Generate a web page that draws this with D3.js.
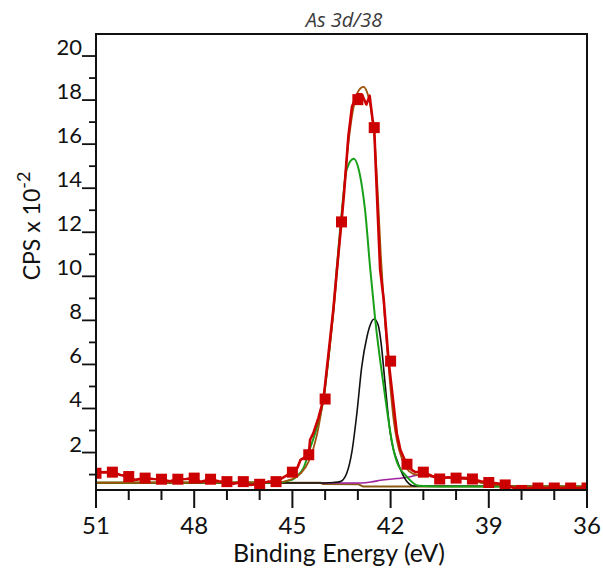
<!DOCTYPE html>
<html>
<head>
<meta charset="utf-8">
<script src="https://cdn.jsdelivr.net/npm/d3@7"></script>
<style>
  body { margin: 0; background: #fff; }
  svg { display: block; font-family: Lato, "Liberation Sans", sans-serif; }
</style>
</head>
<body>
<div class="graph"></div>
<script>
// Data read from the As 3d/38 spectrum
var energy = [51, 50.5, 50, 49.5, 49, 48.5, 48, 47.5, 47, 46.5, 46, 45.5, 45, 44.5, 44,
    43.5, 43, 42.5, 42, 41.5, 41, 40.5, 40, 39.5, 39, 38.5, 38, 37.5, 37, 36.5, 36];
var counts = [1.06, 1.11, 0.91, 0.84, 0.79, 0.79, 0.84, 0.79, 0.68, 0.68, 0.56, 0.68, 1.11, 1.90, 4.43,
    12.47, 18.02, 16.75, 6.15, 1.47, 1.11, 0.80, 0.84, 0.80, 0.64, 0.53, 0.28, 0.39, 0.39, 0.39, 0.39];

// raw spectrum line (finer sampling)
var rawE = [51, 50.9, 50.5, 50.25, 50, 49.8, 49.5, 49.25, 49, 48.75, 48.5, 48.25, 48, 47.8, 47.5, 47.25,
    47, 46.8, 46.5, 46.3, 46, 45.75, 45.5, 45.3, 45, 44.85, 44.75, 44.5, 44.46, 44.36, 44.2, 44.05,
    43.75, 43.64, 43.5, 43.42, 43.29, 43.18, 43.03, 42.88, 42.74, 42.64, 42.55, 42.5, 42.45, 42.32,
    42.21, 42.06, 41.81, 41.7, 41.55, 41.5, 41.35, 41.25, 41, 40.75, 40.5, 40.25, 40, 39.75, 39.5,
    39.25, 39, 38.75, 38.5, 38.25, 38, 37.75, 37.5, 37, 36.5, 36];
var rawV = [1.06, 1.1, 1.11, 0.98, 0.91, 0.76, 0.84, 0.8, 0.79, 0.7, 0.79, 0.8, 0.84, 0.67, 0.79, 0.7,
    0.68, 0.58, 0.68, 0.53, 0.56, 0.68, 0.68, 0.85, 1.11, 1.3, 1.67, 1.9, 2.58, 2.88, 3.6, 4.43,
    8.49, 10.3, 12.47, 13.8, 16.36, 17.7, 18.26, 18.26, 17.8, 18.2, 17.1, 16.75, 14.85, 10.3,
    8.94, 6.15, 2.88, 2.12, 1.6, 1.47, 1.2, 1.12, 1.11, 0.95, 0.8, 0.88, 0.84, 0.85, 0.8,
    0.7, 0.64, 0.6, 0.53, 0.4, 0.3, 0.38, 0.39, 0.39, 0.39, 0.39];

// fit envelope
var envE = [51, 45.5, 45, 44.75, 44.5, 44.25, 44.05, 43.75, 43.5, 43.3, 43.1, 42.97, 42.83, 42.72, 42.6,
    42.5, 42.4, 42.3, 42.2, 42.06, 41.9, 41.8, 41.65, 41.5, 41.3, 41.1, 40.8, 40.5, 40, 39.5, 39.26,
    38.74, 38, 36];
var envV = [0.63, 0.65, 0.8, 1.05, 1.6, 2.8, 4.5, 8.3, 12.6, 15.9, 17.9, 18.45, 18.6, 18.36, 17.6,
    16.4, 14.0, 11.0, 8.6, 5.9, 3.4, 2.5, 1.7, 1.25, 1.03, 0.97, 0.93, 0.88, 0.84, 0.75, 0.64,
    0.53, 0.46, 0.45];

// components
var greenE = [51, 45.5, 45.02, 44.87, 44.66, 44.46, 44.3, 44.05, 43.75, 43.52, 43.34, 43.13, 42.93,
    42.78, 42.62, 42.47, 42.21, 41.91, 41.81, 41.5, 41.14, 40.5, 36];
var greenV = [0.63, 0.64, 0.76, 0.91, 1.3, 2.2, 2.9, 4.43, 8.49, 12.47, 14.85, 15.34, 14.55,
    13.0, 10.3, 8.03, 5.0, 2.12, 1.58, 0.9, 0.49, 0.46, 0.46];

var blackE = [51, 44, 43.75, 43.54, 43.34, 43.18, 43.03, 42.88, 42.72, 42.62, 42.5, 42.37, 42.29,
    42.16, 42.01, 41.91, 41.81, 41.6, 41.45, 41.3, 36];
var blackV = [0.62, 0.62, 0.64, 0.68, 1.06, 2.05, 3.79, 5.91, 7.27, 7.8, 8.06, 7.73, 6.97,
    5.0, 2.88, 2.12, 1.67, 0.91, 0.6, 0.48, 0.46];

var purpleE = [44.1, 42.9, 42.6, 42.31, 41.8, 41.4, 41.19, 41, 40.79, 40.5, 40, 39.5, 39.26, 38.74, 38.03, 37.5];
var purpleV = [0.62, 0.62, 0.66, 0.74, 0.82, 0.9, 0.97, 0.97, 0.92, 0.88, 0.84, 0.75, 0.64, 0.53, 0.46, 0.46];

var bgE = [51, 44.15, 44.05, 42.98, 42.85, 36];
var bgV = [0.63, 0.63, 0.57, 0.56, 0.46, 0.45];

var xTicks = [51, 48, 45, 42, 39, 36];
var yTicks = [2, 4, 6, 8, 10, 12, 14, 16, 18, 20];

var width = 603;
var height = 571;
var plot = {left: 96, right: 587, top: 34, bottom: 490};

var svg = d3.select(".graph").append("svg")
    .attr("width", width)
    .attr("height", height);

var x = d3.scaleLinear().domain([51, 36]).range([plot.left, plot.right]);
var y = d3.scaleLinear().domain([0.3, 21]).range([plot.bottom, plot.top]);

svg.append("clipPath").attr("id", "clip")
    .append("rect")
    .attr("x", plot.left).attr("y", plot.top)
    .attr("width", plot.right - plot.left).attr("height", plot.bottom - plot.top);

var area = svg.append("g").attr("clip-path", "url(#clip)");

function pairs(es, vs) { return es.map(function (e, i) { return [e, vs[i]]; }); }

var smooth = d3.line()
    .x(function (d) { return x(d[0]); })
    .y(function (d) { return y(d[1]); })
    .curve(d3.curveMonotoneX);
var straight = d3.line()
    .x(function (d) { return x(d[0]); })
    .y(function (d) { return y(d[1]); });

function drawLine(es, vs, color, w, gen) {
    area.append("path")
        .datum(pairs(es, vs).sort(function (a, b) { return b[0] - a[0]; }))
        .attr("fill", "none")
        .attr("stroke", color)
        .attr("stroke-width", w)
        .attr("stroke-linejoin", "round")
        .attr("d", gen);
}

drawLine(bgE, bgV, "#8a5a16", 2, straight);
drawLine(purpleE, purpleV, "#a020a0", 1.6, smooth);
drawLine(blackE, blackV, "#111111", 1.6, smooth);
drawLine(greenE, greenV, "#18a018", 2, smooth);
drawLine(envE, envV, "#a0520c", 1.8, smooth);
drawLine(rawE, rawV, "#cc0000", 2.6, straight);

var sq = 11;
area.selectAll("rect.pt")
    .data(pairs(energy, counts))
    .enter().append("rect")
    .attr("class", "pt")
    .attr("x", function (d) { return x(d[0]) - sq / 2; })
    .attr("y", function (d) { return y(d[1]) - sq / 2; })
    .attr("width", sq)
    .attr("height", sq)
    .attr("fill", "#cc0000");

// frame
svg.append("rect")
    .attr("x", plot.left).attr("y", plot.top)
    .attr("width", plot.right - plot.left).attr("height", plot.bottom - plot.top)
    .attr("fill", "none").attr("stroke", "#111").attr("stroke-width", 2);

// x axis ticks
var xg = svg.append("g");
xg.selectAll("line.minor")
    .data(d3.range(36, 52, 1))
    .enter().append("line")
    .attr("x1", function (d) { return x(d); }).attr("x2", function (d) { return x(d); })
    .attr("y1", plot.bottom).attr("y2", function (d) { return xTicks.indexOf(d) >= 0 ? plot.bottom + 18 : plot.bottom + 10; })
    .attr("stroke", "#111").attr("stroke-width", 2);
xg.selectAll("text")
    .data(xTicks)
    .enter().append("text")
    .attr("x", function (d) { return x(d); })
    .attr("y", 534)
    .attr("text-anchor", "middle")
    .attr("font-size", 24)
    .attr("fill", "#111")
    .text(function (d) { return d; });

// y axis ticks
var yg = svg.append("g");
yg.selectAll("line")
    .data(d3.range(1, 21, 1))
    .enter().append("line")
    .attr("y1", function (d) { return y(d); }).attr("y2", function (d) { return y(d); })
    .attr("x1", function (d) { return yTicks.indexOf(d) >= 0 ? plot.left - 14 : plot.left - 7; })
    .attr("x2", plot.left)
    .attr("stroke", "#111").attr("stroke-width", 1.8);
yg.selectAll("text")
    .data(yTicks)
    .enter().append("text")
    .attr("x", plot.left - 14)
    .attr("y", function (d) { return y(d) - 1; })
    .attr("text-anchor", "end")
    .attr("font-size", 22)
    .attr("fill", "#111")
    .text(function (d) { return d; });

// titles
svg.append("text")
    .attr("x", 344).attr("y", 27)
    .attr("text-anchor", "middle")
    .attr("font-family", "'Open Sans', sans-serif")
    .attr("font-style", "italic")
    .attr("font-size", 20)
    .attr("fill", "#3a3a3a")
    .text("As 3d/38");

svg.append("text")
    .attr("x", 339).attr("y", 562)
    .attr("text-anchor", "middle")
    .attr("font-size", 25)
    .attr("fill", "#111")
    .text("Binding Energy (eV)");

var yt = svg.append("text")
    .attr("transform", "translate(40,226) rotate(-90)")
    .attr("text-anchor", "middle")
    .attr("font-size", 23)
    .attr("fill", "#111");
yt.append("tspan").text("CPS x 10");
yt.append("tspan").attr("dy", -10).attr("font-size", 18).text("-2");
</script>
</body>
</html>
